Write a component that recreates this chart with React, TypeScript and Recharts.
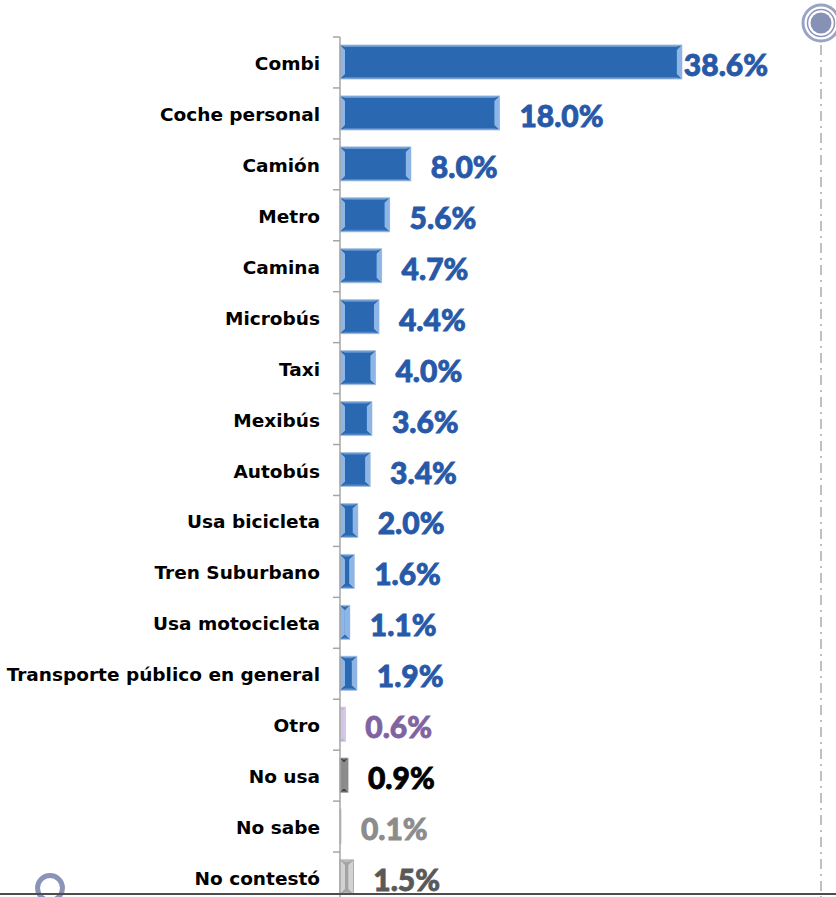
import React from "react";
import { Bar, BarChart, LabelList, XAxis, YAxis } from "recharts";

const categories = [
  "Combi",
  "Coche personal",
  "Camión",
  "Metro",
  "Camina",
  "Microbús",
  "Taxi",
  "Mexibús",
  "Autobús",
  "Usa bicicleta",
  "Tren Suburbano",
  "Usa motocicleta",
  "Transporte público en general",
  "Otro",
  "No usa",
  "No sabe",
  "No contestó",
];

const shares = [38.6, 18.0, 8.0, 5.6, 4.7, 4.4, 4.0, 3.6, 3.4, 2.0, 1.6, 1.1, 1.9, 0.6, 0.9, 0.1, 1.5];

// style groups per row: blue for modes, then otro / no usa / no sabe / no contestó
const rowStyle = ["blue", "blue", "blue", "blue", "blue", "blue", "blue", "blue", "blue", "blue", "blue", "blue", "blue", "otro", "nousa", "nosabe", "nocontesto"];

const palette: Record<string, { fill: string; light: string; edge: string; text: string }> = {
  blue: { fill: "#2A69B1", light: "#8DB5E6", edge: "#B4C8E0", text: "#2759A8" },
  otro: { fill: "#B6A5D1", light: "#D3C8E6", edge: "#CFC6DE", text: "#8064A2" },
  nousa: { fill: "#3B3B3B", light: "#8C8C8C", edge: "#9A9A9A", text: "#000000" },
  nosabe: { fill: "#A6A6A6", light: "#CFCFCF", edge: "#BDBDBD", text: "#8C8C8C" },
  nocontesto: { fill: "#A3A3A3", light: "#D2D2D2", edge: "#8E8E8E", text: "#595959" },
};

const rows = categories.map((name, i) => ({ name, value: shares[i], style: rowStyle[i] }));

const PLOT_TOP = 37;
const PLOT_BOTTOM = 903;
const BAND = (PLOT_BOTTOM - PLOT_TOP) / categories.length;

function BevelBar(props: any) {
  const { x, y, width, height, payload } = props;
  if (!width || width <= 0) return null;
  const c = palette[payload.style];
  const b = Math.min(5, width / 2);
  return (
    <g>
      <rect x={x} y={y} width={width} height={height} fill={c.fill} stroke={c.edge} strokeWidth={1} />
      <polygon points={`${x},${y} ${x + width},${y} ${x + width - b},${y + 2} ${x + b},${y + 2}`} fill={c.light} opacity={0.6} />
      <polygon points={`${x},${y + height} ${x + width},${y + height} ${x + width - b},${y + height - 2} ${x + b},${y + height - 2}`} fill={c.light} opacity={0.4} />
      <polygon points={`${x},${y} ${x + b},${y + b} ${x + b},${y + height - b} ${x},${y + height}`} fill={c.light} />
      <polygon
        points={`${x + width},${y} ${x + width - b},${y + b} ${x + width - b},${y + height - b} ${x + width},${y + height}`}
        fill={c.light}
      />
    </g>
  );
}

function ValueLabel(props: any) {
  const { x, y, width, height, value, index } = props;
  const c = palette[rowStyle[index]];
  const gap = width > 300 ? 2 : 20;
  return (
    <text
      x={x + width + gap}
      y={y + height / 2 + 2}
      dominantBaseline="central"
      fontFamily="Lato"
      fontWeight={900}
      fontSize={30}
      stroke={c.text}
      strokeWidth={0.8}
      fill={c.text}
    >
      {Number(value).toFixed(1)}%
    </text>
  );
}

function CategoryTick(props: any) {
  const { x, y, payload } = props;
  return (
    <g>
      <line x1={x - 7} x2={x} y1={y - BAND / 2} y2={y - BAND / 2} stroke="#A6A6A6" strokeWidth={1.5} />
      <text
        x={x - 20}
        y={y + 1}
        textAnchor="end"
        dominantBaseline="central"
        fontFamily="DejaVu Sans"
        fontWeight={700}
        fontSize={18.5}
        fill="#000"
      >
        {payload.value}
      </text>
    </g>
  );
}

export default function App() {
  return (
    <div style={{ position: "absolute", left: 0, top: 0, width: 836, height: 897, overflow: "hidden", background: "#fff" }}>
      <BarChart
        width={836}
        height={920}
        data={rows}
        layout="vertical"
        margin={{ top: PLOT_TOP, right: 16, bottom: 920 - PLOT_BOTTOM, left: 0 }}
        barSize={34}
      >
        <XAxis type="number" domain={[0, 54.2]} hide />
        <YAxis
          type="category"
          dataKey="name"
          width={340}
          tickSize={0}
          tickMargin={0}
          tickLine={false}
          axisLine={{ stroke: "#A6A6A6", strokeWidth: 1.5 }}
          tick={<CategoryTick />}
          interval={0}
        />
        <Bar dataKey="value" shape={<BevelBar />} isAnimationActive={false}>
          <LabelList dataKey="value" content={<ValueLabel />} />
        </Bar>
      </BarChart>
      <svg width={836} height={897} style={{ position: "absolute", left: 0, top: 0, pointerEvents: "none" }}>
        <line x1={821} x2={821} y1={45} y2={897} stroke="#BFBFBF" strokeWidth={2} strokeDasharray="10 5 2 5" />
        <circle cx={821} cy={23} r={18} fill="none" stroke="#9AA3C4" strokeWidth={3} />
        <circle cx={821} cy={23} r={13.5} fill="none" stroke="#8A94B8" strokeWidth={1.5} />
        <circle cx={821} cy={23} r={10.5} fill="#8791B5" />
        <circle cx={50} cy={888} r={12.5} fill="none" stroke="#8A94B8" strokeWidth={5} />
        <line x1={0} x2={836} y1={894} y2={894} stroke="#4D4D4D" strokeWidth={2} />
      </svg>
    </div>
  );
}
